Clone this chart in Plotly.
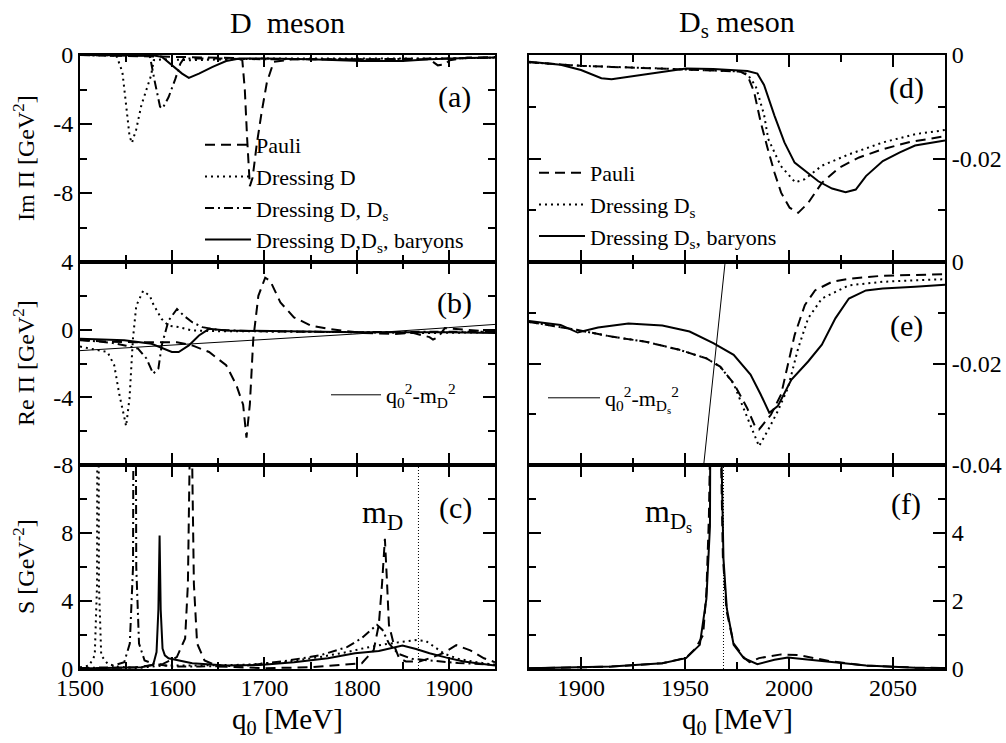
import plotly.graph_objects as go

FONT = "Liberation Serif, Times New Roman, Times, serif"
W, H = 1006, 743

# ---------------- D meson (left column) ----------------
# (a) Im Pi [GeV^2]
a_pauli_q = [1500, 1550, 1600, 1650, 1670, 1676, 1678.7, 1681.3, 1684.2, 1687.2, 1691.6, 1697, 1702.6, 1710, 1730, 1780, 1840, 1879, 1888, 1895.6, 1901, 1920, 1950]
a_pauli_v = [0, -0.05, -0.1, -0.15, -0.18, -0.3, -2.0, -4.9, -7.6, -7.1, -5.2, -3.3, -1.6, -0.4, -0.25, -0.25, -0.25, -0.25, -0.6, -0.55, -0.3, -0.15, -0.12]
a_dressD_q = [1500, 1530, 1540, 1546, 1550, 1553.7, 1556.3, 1561, 1566.6, 1572, 1577, 1580, 1590, 1620, 1660, 1700, 1800, 1900, 1950]
a_dressD_v = [0, -0.02, -0.1, -1.0, -2.9, -4.7, -5.1, -4.3, -2.9, -2.0, -1.2, -0.3, -0.25, -0.3, -0.25, -0.2, -0.2, -0.2, -0.15]
a_dressDDs_q = [1500, 1560, 1575.7, 1581.3, 1586.8, 1589.4, 1596, 1603.3, 1608.8, 1612.5, 1650, 1700, 1800, 1900, 1950]
a_dressDDs_v = [0, -0.02, -0.05, -1.6, -3.0, -3.1, -2.45, -1.4, -0.5, -0.2, -0.2, -0.25, -0.25, -0.2, -0.15]
a_bary_q = [1500, 1580, 1588.6, 1599.6, 1610.7, 1618, 1629, 1643.8, 1658.5, 1673, 1700, 1750, 1805, 1850, 1879, 1920, 1950]
a_bary_v = [0, -0.03, -0.1, -0.6, -1.08, -1.33, -1.08, -0.69, -0.35, -0.2, -0.2, -0.25, -0.35, -0.35, -0.25, -0.18, -0.15]

# (b) Re Pi [GeV^2]
b_free_q = [1500, 1600, 1700, 1800, 1900, 1950]
b_free_v = [-1.24, -0.92, -0.60, -0.25, 0.12, 0.31]
b_pauli_q = [1500, 1533.5, 1560, 1580, 1605, 1621.7, 1640, 1658.5, 1669.5, 1676.9, 1680.5, 1684.2, 1687.9, 1693.4, 1700.8, 1706.3, 1717.3, 1732, 1750.4, 1768.8, 1805.6, 1842, 1860.7, 1879, 1882.8, 1888.3, 1895.6, 1915.9, 1950]
b_pauli_v = [-0.63, -0.72, -0.74, -0.72, -0.74, -0.93, -1.32, -2.1, -3.27, -4.44, -6.39, -4.4, -0.54, 2.0, 3.07, 2.88, 1.61, 0.73, 0.24, 0.05, -0.19, -0.25, -0.19, -0.44, -0.58, -0.44, 0.09, 0.01, -0.15]
b_dressD_q = [1500, 1518.8, 1529.8, 1537.1, 1542.7, 1548.2, 1550, 1553.7, 1555.5, 1557.4, 1561, 1568.4, 1575.7, 1579.4, 1588.6, 1596, 1607, 1621.7, 1660, 1700, 1800, 1880, 1950]
b_dressD_v = [-1.0, -1.22, -1.32, -2.1, -3.85, -5.22, -5.7, -4.05, -2.1, -0.54, 1.41, 2.29, 2.0, 1.51, 0.63, 0.24, 0.15, -0.05, -0.1, -0.1, -0.15, -0.2, -0.15]
b_dressDDs_q = [1500, 1533.5, 1550, 1562.9, 1572, 1579.4, 1585, 1588.6, 1596, 1605.2, 1612.5, 1621.7, 1632.7, 1650, 1700, 1800, 1900, 1950]
b_dressDDs_v = [-0.6, -0.77, -0.95, -1.12, -1.7, -2.6, -2.3, -0.93, 0.54, 1.22, 0.83, 0.44, 0.15, -0.02, -0.1, -0.15, -0.12, -0.12]
b_bary_q = [1500, 1548, 1577.6, 1590.5, 1599.6, 1607, 1618, 1629, 1640, 1658.5, 1700, 1800, 1900, 1950]
b_bary_v = [-0.54, -0.63, -0.83, -1.12, -1.32, -1.32, -0.93, -0.34, 0.05, -0.05, -0.08, -0.15, -0.15, -0.19]

# (c) S [GeV^-2]
c_pauli_q = [1500, 1560, 1590, 1605, 1614, 1617, 1618.8, 1620.2, 1621.7, 1623.5, 1627, 1635, 1650, 1700, 1750, 1790, 1805.6, 1818.4, 1824, 1827.5, 1830.6, 1833, 1835, 1840.5, 1846, 1853.4, 1868, 1879, 1893.8, 1908, 1923.2, 1938, 1950]
c_pauli_v = [0.02, 0.1, 0.3, 0.7, 1.8, 5.0, 12.0, 40.0, 12.0, 5.0, 1.5, 0.5, 0.15, 0.05, 0.1, 0.3, 0.34, 1.1, 2.6, 5.0, 7.66, 5.0, 2.6, 1.4, 0.63, 0.44, 0.44, 0.63, 0.93, 1.4, 1.1, 0.63, 0.4]
c_dressD_q = [1500, 1510, 1516, 1518.5, 1519.5, 1520.5, 1523, 1530, 1540, 1560, 1590, 1620, 1680, 1720, 1760, 1790, 1810, 1830, 1850, 1865, 1875, 1885, 1895, 1910, 1930, 1950]
c_dressD_v = [0.1, 0.2, 0.8, 5.0, 40.0, 5.0, 0.8, 0.3, 0.15, 0.05, 0.2, 0.2, 0.25, 0.4, 0.7, 1.0, 1.25, 1.45, 1.6, 1.7, 1.65, 1.3, 0.9, 0.6, 0.4, 0.25]
c_dressDDs_q = [1500, 1530, 1548, 1554, 1557.5, 1559.2, 1561, 1564, 1570, 1580, 1600, 1630, 1680, 1720, 1760, 1790, 1805, 1815, 1822, 1828, 1835, 1845, 1860, 1880, 1910, 1950]
c_dressDDs_v = [0.05, 0.1, 0.4, 1.5, 6.0, 40.0, 6.0, 1.5, 0.5, 0.3, 0.15, 0.15, 0.2, 0.45, 0.8, 1.3, 1.8, 2.3, 2.6, 2.3, 1.5, 0.9, 0.6, 0.5, 0.35, 0.25]
c_bary_q = [1500, 1550, 1566.6, 1579.4, 1583, 1585, 1586.3, 1587.5, 1589.5, 1592, 1596, 1621.7, 1658.5, 1695, 1732, 1768.8, 1798.2, 1824, 1842.3, 1849.7, 1864.4, 1879, 1897.5, 1915.9, 1950]
c_bary_v = [0.03, 0.06, 0.1, 0.25, 1.0, 3.5, 7.85, 3.5, 1.2, 0.8, 0.63, 0.34, 0.2, 0.24, 0.4, 0.63, 0.93, 1.06, 1.32, 1.38, 1.18, 0.93, 0.67, 0.44, 0.2]
m_D = 1867
c_mark_v = [0, 12]

# ---------------- Ds meson (right column) ----------------
# (d) Im Pi
d_pauli_q = [1875, 1900, 1914.7, 1931, 1950.5, 1963.6, 1976.6, 1980, 1983.2, 1986.4, 1989.7, 1993, 1996.2, 2000.3, 2004.4, 2009.2, 2015.8, 2024, 2033.7, 2045.1, 2058.2, 2075]
d_pauli_v = [-0.0014, -0.0021, -0.0023, -0.0025, -0.0027, -0.003, -0.0032, -0.0039, -0.0071, -0.013, -0.018, -0.0227, -0.0266, -0.0295, -0.0305, -0.0286, -0.0247, -0.0218, -0.0198, -0.0182, -0.0168, -0.0157]
d_dressDs_q = [1875, 1900, 1931, 1963.6, 1976.6, 1980, 1984, 1988, 1990, 1996, 2003, 2007.6, 2015.8, 2028.8, 2045.1, 2060.6, 2075]
d_dressDs_v = [-0.0014, -0.0021, -0.0025, -0.003, -0.0032, -0.0037, -0.006, -0.0115, -0.0162, -0.0214, -0.0246, -0.024, -0.0214, -0.0192, -0.0169, -0.0153, -0.0145]
d_bary_q = [1875, 1890.2, 1900, 1909.8, 1914.7, 1931, 1950.5, 1963.6, 1980, 1984.8, 1988, 1993, 1997.8, 2002.7, 2007.6, 2014.1, 2020.7, 2027.2, 2032.1, 2037, 2045.1, 2053.3, 2060.6, 2075]
d_bary_v = [-0.0013, -0.0019, -0.0029, -0.0045, -0.0047, -0.0038, -0.0026, -0.0027, -0.0031, -0.0036, -0.0058, -0.0117, -0.0169, -0.0208, -0.0224, -0.0244, -0.0258, -0.0265, -0.026, -0.0234, -0.0205, -0.0188, -0.0175, -0.0165]

# (e) Re Pi
e_free_q = [1955, 1972]
e_free_v = [-0.0555, 0.0105]
e_pauli_q = [1875, 1898.4, 1914.7, 1931, 1947.3, 1960.3, 1966.9, 1973.4, 1979.9, 1984, 1985.6, 1991.3, 1996.2, 1999.5, 2002.7, 2007.6, 2012.5, 2020.7, 2028.8, 2045.1, 2060.6, 2075]
e_pauli_v = [-0.0118, -0.0134, -0.0147, -0.0157, -0.0173, -0.019, -0.0206, -0.0239, -0.0288, -0.0327, -0.033, -0.0301, -0.0261, -0.0203, -0.0144, -0.0085, -0.0056, -0.0039, -0.0033, -0.0027, -0.0025, -0.0024]
e_dressDs_q = [1875, 1898.4, 1914.7, 1931, 1947.3, 1960.3, 1966.9, 1973.4, 1980, 1983.2, 1985.6, 1989.7, 1994.6, 1999.5, 2004.4, 2009.2, 2015.8, 2028.8, 2045.1, 2060.6, 2075]
e_dressDs_v = [-0.0118, -0.0134, -0.0147, -0.0157, -0.0173, -0.019, -0.0206, -0.024, -0.0307, -0.034, -0.0363, -0.0333, -0.0294, -0.0248, -0.017, -0.0111, -0.0072, -0.0046, -0.0039, -0.0036, -0.0034]
e_bary_q = [1875, 1890.2, 1898.4, 1908.2, 1922.8, 1939.1, 1952.2, 1963.6, 1973.4, 1981.5, 1986.4, 1990.5, 1994.6, 2001.1, 2009.2, 2015.8, 2022.3, 2028.8, 2037, 2045.1, 2060.6, 2075]
e_bary_v = [-0.0116, -0.0124, -0.0139, -0.0129, -0.0121, -0.0125, -0.0137, -0.016, -0.0183, -0.0222, -0.0261, -0.0297, -0.0284, -0.0232, -0.0196, -0.0163, -0.0111, -0.0072, -0.0056, -0.0052, -0.0049, -0.0045]

# (f) S
f_pauli_q = [1875, 1914.7, 1939.1, 1950.5, 1955, 1958.7, 1960.3, 1961.5, 1962.7, 1964.8, 1966.8, 1968.2, 1970, 1973.4, 1978.3, 1981, 1985.6, 1996.2, 2004.4, 2012.5, 2020.7, 2037, 2060.6, 2075]
f_pauli_v = [0.02, 0.07, 0.17, 0.33, 0.6, 1.0, 2.27, 4.5, 9.0, 60.0, 8.0, 3.3, 1.7, 0.75, 0.34, 0.2, 0.32, 0.43, 0.41, 0.32, 0.22, 0.1, 0.04, 0.03]
f_bary_q = [1875, 1914.7, 1939.1, 1950.5, 1957.1, 1960.3, 1962, 1963.3, 1965.2, 1967, 1968.5, 1970.1, 1973.4, 1978.3, 1984.8, 1993, 1999.5, 2007.6, 2020.7, 2037, 2060.6, 2075]
f_bary_v = [0.02, 0.07, 0.17, 0.32, 0.71, 2.07, 4.2, 9.0, 60.0, 8.0, 3.24, 1.78, 0.71, 0.32, 0.14, 0.27, 0.34, 0.29, 0.2, 0.1, 0.04, 0.03]
m_Ds = 1968.5
f_mark_v = [0, 6]

# tick labels
left_x_ticks = [1500, 1600, 1700, 1800, 1900]
left_x_minor = [1550, 1650, 1750, 1850]
right_x_ticks = [1900, 1950, 2000, 2050]
right_x_minor = [1875, 1925, 1975, 2025, 2075]

# ---------------- styles ----------------
DASH = "10px,6px"
DOT = "2px,4px"
DASHDOT = "9px,4px,2px,4px"
LW = 2.0


def px_x(x):
    return x / W


def px_y(y):
    return 1 - y / H


LEFT = [px_x(80), px_x(495)]
RIGHT = [px_x(529), px_x(945)]
ROWS = [[px_y(262), px_y(55)], [px_y(465), px_y(262)], [px_y(669), px_y(465)]]

fig = go.Figure()


def line(q, v, ax, dash, name=None, legend=None, width=LW):
    fig.add_trace(go.Scatter(
        x=q, y=v, mode="lines", xaxis="x" + ax, yaxis="y" + ax,
        line=dict(color="black", width=width, dash=dash),
        name=name, showlegend=legend is not None, legend=legend if legend else "legend",
        hoverinfo="skip"))


# (a)
line(a_pauli_q, a_pauli_v, "1", DASH, "Pauli", "legend")
line(a_dressD_q, a_dressD_v, "1", DOT, "Dressing D", "legend")
line(a_dressDDs_q, a_dressDDs_v, "1", DASHDOT, "Dressing D, D<sub>s</sub>", "legend")
line(a_bary_q, a_bary_v, "1", "solid", "Dressing D,D<sub>s</sub>, baryons", "legend")
# (b)
line(b_free_q, b_free_v, "2", "solid", "q<sub>0</sub><sup>2</sup>-m<sub>D</sub><sup>2</sup>", "legend2", width=1)
line(b_pauli_q, b_pauli_v, "2", DASH)
line(b_dressD_q, b_dressD_v, "2", DOT)
line(b_dressDDs_q, b_dressDDs_v, "2", DASHDOT)
line(b_bary_q, b_bary_v, "2", "solid")
# (c)
line(c_pauli_q, c_pauli_v, "3", DASH)
line(c_dressD_q, c_dressD_v, "3", DOT)
line(c_dressDDs_q, c_dressDDs_v, "3", DASHDOT)
line(c_bary_q, c_bary_v, "3", "solid")
line([m_D, m_D], c_mark_v, "3", "1px,2px", width=1)
# (d)
line(d_pauli_q, d_pauli_v, "4", DASH, "Pauli", "legend3")
line(d_dressDs_q, d_dressDs_v, "4", DOT, "Dressing D<sub>s</sub>", "legend3")
line(d_bary_q, d_bary_v, "4", "solid", "Dressing D<sub>s</sub>, baryons", "legend3")
# (e)
line(e_free_q, e_free_v, "5", "solid", "q<sub>0</sub><sup>2</sup>-m<sub>D<sub>s</sub></sub><sup>2</sup>", "legend4", width=1)
line(e_pauli_q, e_pauli_v, "5", DASH)
line(e_dressDs_q, e_dressDs_v, "5", DOT)
line(e_bary_q, e_bary_v, "5", "solid")
# (f)
line(f_pauli_q, f_pauli_v, "6", DASH)
line(f_bary_q, f_bary_v, "6", "solid")
line([m_Ds, m_Ds], f_mark_v, "6", "1px,2px", width=1)

tickfont = dict(family=FONT, size=24, color="black")
common = dict(ticks="inside", ticklen=12, tickwidth=1.5, tickcolor="black",
              mirror="allticks", showline=True, linecolor="black", linewidth=1.8,
              showgrid=False, zeroline=False, tickfont=tickfont, automargin=False)


def minor(vals):
    return dict(tickmode="array", tickvals=vals, ticks="inside", ticklen=7,
                tickwidth=1.5, tickcolor="black", showgrid=False)


def fmt(v):
    return "%g" % v


layout_axes = {}
panels = [
    ("1", LEFT, ROWS[0], [1500, 1950], left_x_ticks, left_x_minor, False, [-12, 0], [-8, -4, 0], [-10, -6, -2], "left"),
    ("2", LEFT, ROWS[1], [1500, 1950], left_x_ticks, left_x_minor, False, [-8, 4], [-8, -4, 0, 4], [-6, -2, 2], "left"),
    ("3", LEFT, ROWS[2], [1500, 1950], left_x_ticks, left_x_minor, True, [0, 12], [0, 4, 8], [2, 6, 10], "left"),
    ("4", RIGHT, ROWS[0], [1875, 2075], right_x_ticks, right_x_minor, False, [-0.04, 0], [-0.02, 0], [-0.03, -0.01], "right"),
    ("5", RIGHT, ROWS[1], [1875, 2075], right_x_ticks, right_x_minor, False, [-0.04, 0], [-0.04, -0.02, 0], [-0.03, -0.01], "right"),
    ("6", RIGHT, ROWS[2], [1875, 2075], right_x_ticks, right_x_minor, True, [0, 6], [0, 2, 4], [1, 3, 5], "right"),
]
for ax, xd, yd, xr, xt, xm, xlab, yr, yt, ym, side in panels:
    k = "" if ax == "1" else ax
    layout_axes["xaxis" + k] = dict(domain=xd, anchor="y" + ax, range=xr, tickmode="array",
                                    tickvals=xt, ticktext=[str(t) for t in xt],
                                    showticklabels=xlab, minor=minor(xm),
                                    ticklabelstandoff=-4, **common)
    layout_axes["yaxis" + k] = dict(domain=yd, anchor="x" + ax, range=yr, tickmode="array",
                                    tickvals=yt, ticktext=[fmt(t) for t in yt], side=side,
                                    minor=minor(ym), ticklabelstandoff=0, **common)

ann = []


def text(x, y, s, size, angle=0, xanchor="center", yanchor="middle"):
    ann.append(dict(x=px_x(x), y=px_y(y), xref="paper", yref="paper", text=s, showarrow=False,
                    font=dict(family=FONT, size=size, color="black"), textangle=angle,
                    xanchor=xanchor, yanchor=yanchor))


text(287, 22, "D  meson", 30)
text(737, 24, "D<sub>s</sub> meson", 30)
text(287, 721, "q<sub>0</sub> [MeV]", 29)
text(737, 721, "q<sub>0</sub> [MeV]", 29)
text(24, 158, "Im Π [GeV<sup>2</sup>]", 24, -90)
text(24, 363, "Re Π [GeV<sup>2</sup>]", 24, -90)
text(24, 567, "S [GeV<sup>-2</sup>]", 24, -90)
text(454, 97, "(a)", 30)
text(454, 303, "(b)", 30)
text(455, 508, "(c)", 30)
text(906, 88, "(d)", 30)
text(906, 326, "(e)", 30)
text(906, 504, "(f)", 30)
text(382, 514, "m<sub>D</sub>", 32)
text(668, 514, "m<sub>D<sub>s</sub></sub>", 32)

legfont = dict(family=FONT, size=22, color="black")
leg_common = dict(bgcolor="rgba(0,0,0,0)", borderwidth=0, font=legfont,
                  xanchor="left", yanchor="top", tracegroupgap=0)

fig.update_layout(
    template="none",
    width=W, height=H, autosize=False,
    margin=dict(l=0, r=0, t=0, b=0, pad=0),
    paper_bgcolor="white", plot_bgcolor="white",
    font=dict(family=FONT, color="black"),
    annotations=ann,
    legend=dict(x=px_x(200), y=px_y(124), itemwidth=46, **leg_common),
    legend2=dict(x=px_x(326), y=px_y(374), itemwidth=50, **leg_common),
    legend3=dict(x=px_x(534), y=px_y(152), itemwidth=46, **leg_common),
    legend4=dict(x=px_x(543), y=px_y(377), itemwidth=52, **leg_common),
    **layout_axes,
)

fig.write_html("out.html")
